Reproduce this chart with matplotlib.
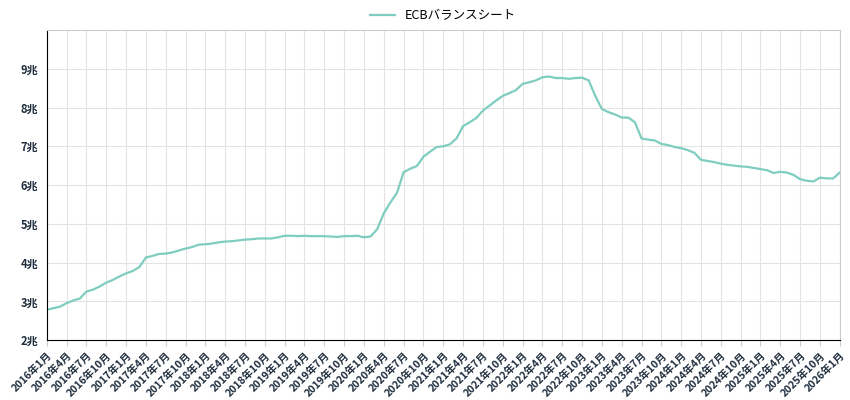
import matplotlib
matplotlib.use("Agg")
import matplotlib.pyplot as plt

plt.rcParams['font.family'] = ['Noto Sans CJK JP', 'DejaVu Sans']

years = list(range(2016, 2027))
values = [
    2.78, 2.82, 2.86, 2.95, 3.02, 3.07, 3.25, 3.30, 3.38, 3.48, 3.55, 3.64,
    3.72, 3.78, 3.88, 4.13, 4.17, 4.22, 4.23, 4.26, 4.31, 4.36, 4.40, 4.46,
    4.47, 4.49, 4.52, 4.54, 4.55, 4.57, 4.59, 4.60, 4.62, 4.62, 4.62, 4.65,
    4.69, 4.69, 4.68, 4.69, 4.68, 4.68, 4.68, 4.67, 4.66, 4.68, 4.68, 4.69,
    4.65, 4.67, 4.86, 5.27, 5.55, 5.80, 6.33, 6.42, 6.49, 6.73, 6.86, 6.98,
    7.00, 7.05, 7.20, 7.52, 7.62, 7.73, 7.92, 8.05, 8.18, 8.30, 8.37, 8.45,
    8.61, 8.65, 8.70, 8.78, 8.80, 8.76, 8.76, 8.74, 8.76, 8.77, 8.70, 8.30,
    7.96, 7.88, 7.82, 7.74, 7.74, 7.62, 7.20, 7.17, 7.15, 7.06, 7.03, 6.98,
    6.95, 6.90, 6.83, 6.65, 6.62, 6.59, 6.55, 6.52, 6.50, 6.48, 6.47, 6.44,
    6.41, 6.38, 6.31, 6.34, 6.32, 6.26, 6.15, 6.11, 6.09, 6.19, 6.17, 6.17,
    6.32,
]
labels = [f"{y}年{m}月" for y in years for m in range(1, 13)][:len(values)]
yticks = [2, 3, 4, 5, 6, 7, 8, 9]
ytick_labels = [f"{v}兆" for v in yticks]

fig = plt.figure(figsize=(8.5, 4), dpi=100)
ax = fig.add_axes([0.055, 0.15, 0.933, 0.775])
x = list(range(len(values)))
ax.plot(x, values, color='#7ecdc0', lw=1.6, label='ECBバランスシート')
ax.set_xlim(0, len(values) - 1)
ax.set_ylim(2, 10)
ax.set_yticks(yticks)
ax.set_yticklabels(ytick_labels, fontsize=8, fontweight='bold', color='#1f2d3d')
ax.set_xticks(x[::3])
ax.set_xticklabels(labels[::3], rotation=45, ha='right', rotation_mode='anchor',
                   fontsize=7.5, fontweight='bold', color='#1f2d3d')
ax.grid(True, color='#e3e3e3', lw=0.8)
ax.tick_params(axis='y', length=0, pad=6)
ax.tick_params(axis='x', length=4, color='#cccccc')
for s in ['top', 'right']:
    ax.spines[s].set_color('#cccccc')
for s in ['left', 'bottom']:
    ax.spines[s].set_color('black')
ax.legend(loc='lower center', bbox_to_anchor=(0.5, 1.0), frameon=False,
          fontsize=9, handlelength=2, borderaxespad=0.2)
fig.savefig('out.png')
